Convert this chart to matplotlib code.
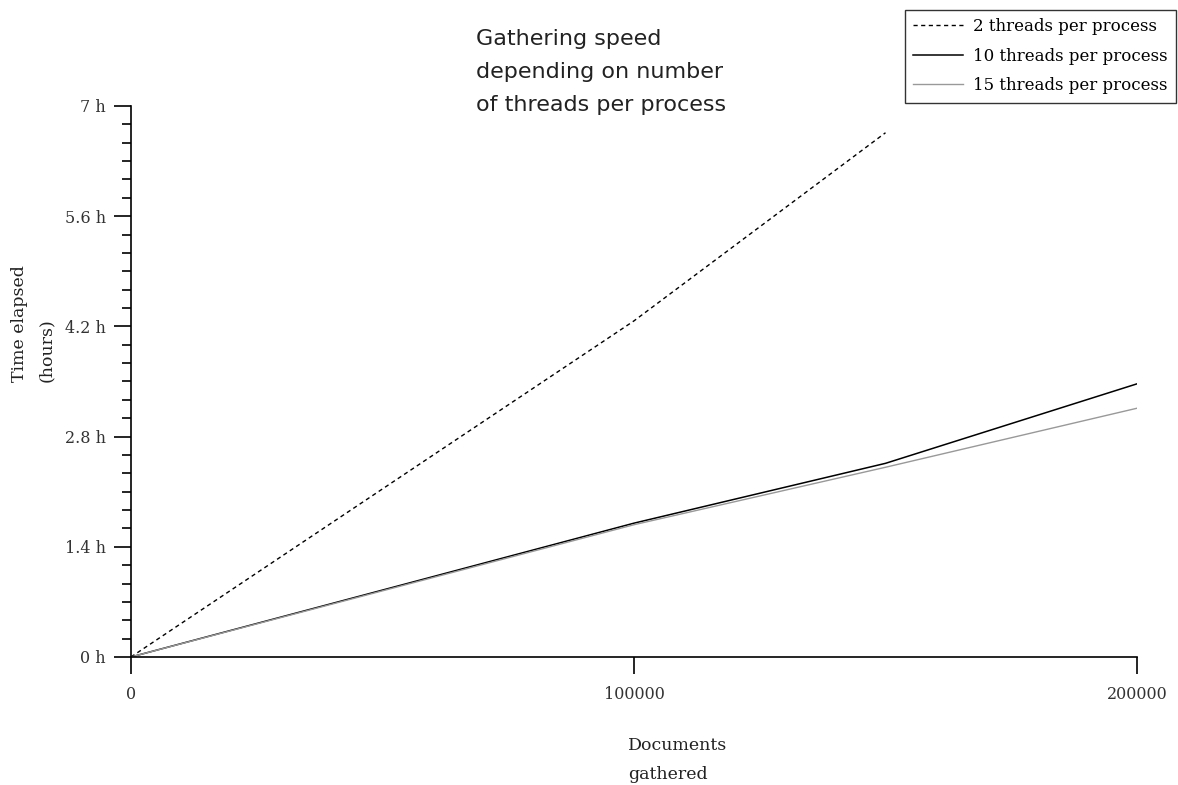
import numpy as np
import matplotlib.pyplot as plt
from matplotlib.ticker import MultipleLocator, FuncFormatter

# Data
docs = [0, 100000, 150000, 200000]
t_2 = [0, 4.27, 6.66]
t_10 = [0, 1.70, 2.46, 3.47]
t_15 = [0, 1.68, 2.41, 3.16]
y_ticks = [0, 1.4, 2.8, 4.2, 5.6, 7]
x_ticks = [0, 100000, 200000]

serif = 'DejaVu Serif'

fig = plt.figure(figsize=(11.78, 7.85), dpi=100)
ax = fig.add_axes([0.1112, 0.1631, 0.8540, 0.7019])

ax.plot(docs[:3], t_2, color='black', lw=1.0, ls=(0, (3, 2.5)),
        label='2 threads per process')
ax.plot(docs, t_10, color='black', lw=1.1, label='10 threads per process')
ax.plot(docs, t_15, color='#999999', lw=1.0, label='15 threads per process')

ax.set_xlim(0, 200000)
ax.set_ylim(0, 7)
for s in ['top', 'right']:
    ax.spines[s].set_visible(False)
for s in ['left', 'bottom']:
    ax.spines[s].set_linewidth(1.2)

ax.set_xticks(x_ticks)
ax.set_xticklabels([str(v) for v in x_ticks])
ax.set_yticks(y_ticks)
ax.yaxis.set_major_formatter(FuncFormatter(lambda v, p: ('%g h' % round(v, 1))))
ax.yaxis.set_minor_locator(MultipleLocator(1.4 / 6))
ax.tick_params(axis='both', which='major', length=12, width=1.2, labelsize=11.5, pad=6)
ax.tick_params(axis='x', which='major', pad=9)
ax.tick_params(axis='y', which='minor', length=6.5, width=1.2)
for lab in ax.get_xticklabels() + ax.get_yticklabels():
    lab.set_fontfamily(serif)
    lab.set_color('#333333')

# title, left aligned block
fig.text(476 / 1178, 1 - 29 / 785, 'Gathering speed\ndepending on number\nof threads per process',
         ha='left', va='top', fontsize=16, family='DejaVu Sans', color='#222222',
         linespacing=1.8)

fig.text(628 / 1178, 1 - 737 / 785, 'Documents\ngathered', ha='left', va='top',
         fontsize=12.5, family=serif, color='#222222', linespacing=1.95)
fig.text(11 / 1178, 1 - 382 / 785, 'Time elapsed\n(hours)', ha='left', va='bottom',
         rotation=90, fontsize=12.5, family=serif, color='#222222', linespacing=1.8,
         multialignment='left')

leg = fig.legend(loc='upper right', bbox_to_anchor=(1176 / 1178, 1 - 10 / 785),
                 prop={'family': serif, 'size': 12}, frameon=True, fancybox=False,
                 edgecolor='black', handlelength=3.0, handletextpad=0.6,
                 borderpad=0.5, labelspacing=0.75, borderaxespad=0)
leg.get_frame().set_linewidth(1.0)

fig.savefig('out.png', dpi=100)
